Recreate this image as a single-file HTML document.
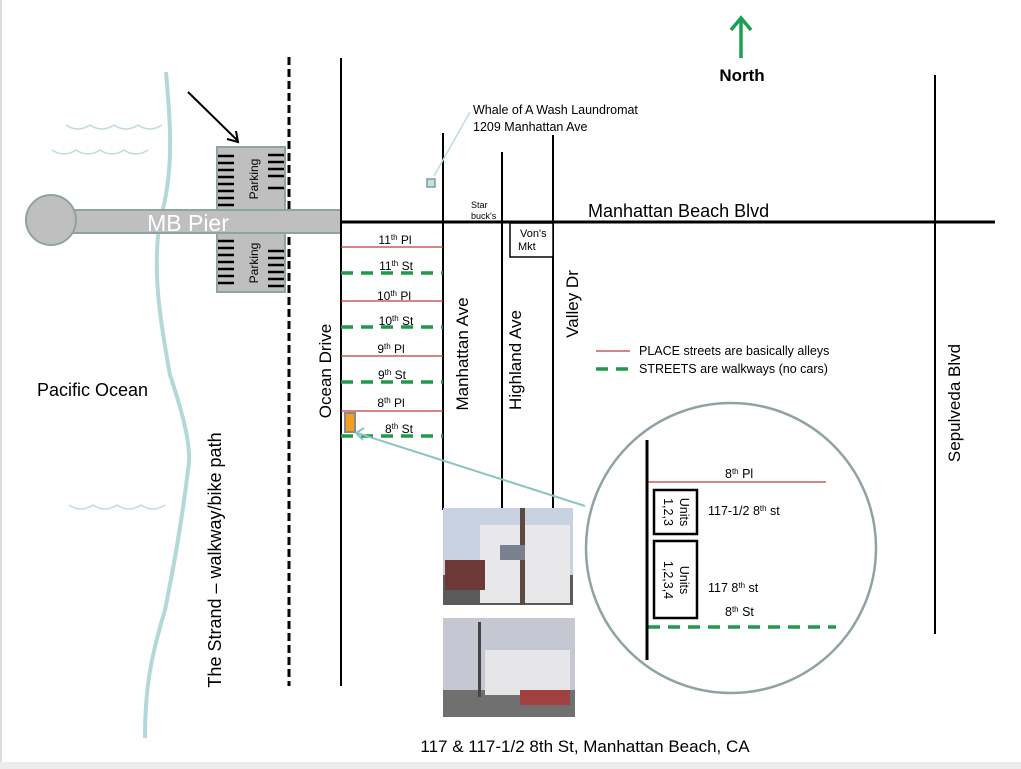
<!DOCTYPE html>
<html><head><meta charset="utf-8"><style>
html,body{margin:0;padding:0;background:#fff;}
svg{display:block;font-family:"Liberation Sans",Arial,sans-serif;}
</style></head><body>
<svg width="1021" height="769" viewBox="0 0 1021 769" xmlns="http://www.w3.org/2000/svg">
<rect x="0" y="0" width="1021" height="769" fill="#fff"/>
<rect x="0" y="762" width="1021" height="7" fill="#ececec"/>
<line x1="1" y1="0" x2="1" y2="762" stroke="#ddd" stroke-width="2"/>
<g fill="none" stroke="#bfdcdc" stroke-width="1.5">
<path d="M66 125 q12 8 24 0 q12 8 24 0 q12 8 24 0 q12 8 24 0"/>
<path d="M52 150 q12 8 24 0 q12 8 24 0 q12 8 24 0 q12 8 24 0"/>
<path d="M69 505 q12 8 24 0 q12 8 24 0 q12 8 24 0 q12 8 24 0"/>
</g>
<path d="M166 72 C170 120 175 170 160 220 C152 270 160 320 170 375 C185 420 192 450 188 470 C182 520 175 560 165 610 C150 660 145 690 145 738" fill="none" stroke="#b3d8d8" stroke-width="4"/>
<line x1="289" y1="57" x2="289" y2="686" stroke="#000" stroke-width="3" stroke-dasharray="8,4"/>
<rect x="217" y="147" width="68" height="64" fill="#bfbfbf" stroke="#8fa3a3" stroke-width="2"/>
<rect x="217" y="232" width="68" height="60" fill="#bfbfbf" stroke="#8fa3a3" stroke-width="2"/>
<g stroke="#000" stroke-width="2.5">
<line x1="218" y1="156" x2="234" y2="156"/><line x1="218" y1="163" x2="234" y2="163"/><line x1="218" y1="170" x2="234" y2="170"/><line x1="218" y1="177" x2="234" y2="177"/><line x1="218" y1="184" x2="234" y2="184"/><line x1="218" y1="191" x2="234" y2="191"/><line x1="218" y1="198" x2="234" y2="198"/><line x1="218" y1="205" x2="234" y2="205"/>
<line x1="268" y1="155" x2="284" y2="155"/><line x1="268" y1="162" x2="284" y2="162"/><line x1="268" y1="169" x2="284" y2="169"/><line x1="268" y1="176" x2="284" y2="176"/><line x1="268" y1="188" x2="284" y2="188"/>
<line x1="218" y1="241" x2="234" y2="241"/><line x1="218" y1="248" x2="234" y2="248"/><line x1="218" y1="255" x2="234" y2="255"/><line x1="218" y1="262" x2="234" y2="262"/><line x1="218" y1="269" x2="234" y2="269"/><line x1="218" y1="276" x2="234" y2="276"/><line x1="218" y1="283" x2="234" y2="283"/>
<line x1="268" y1="251" x2="284" y2="251"/><line x1="268" y1="258" x2="284" y2="258"/><line x1="268" y1="265" x2="284" y2="265"/><line x1="268" y1="272" x2="284" y2="272"/><line x1="268" y1="279" x2="284" y2="279"/><line x1="268" y1="286" x2="284" y2="286"/>
</g>
<text transform="translate(258,179) rotate(-90)" text-anchor="middle" font-size="12">Parking</text>
<text transform="translate(258,263) rotate(-90)" text-anchor="middle" font-size="12">Parking</text>
<rect x="70" y="210" width="271" height="23" fill="#bfbfbf" stroke="#8fa3a3" stroke-width="2"/>
<circle cx="51" cy="220" r="25" fill="#bfbfbf" stroke="#8fa3a3" stroke-width="2"/>
<text x="188" y="231" text-anchor="middle" font-size="23" fill="#fff">MB Pier</text>
<line x1="188" y1="92" x2="237" y2="140" stroke="#000" stroke-width="2"/>
<path d="M227 139 L238 142 L236 131" fill="none" stroke="#000" stroke-width="2"/>
<g stroke="#000" stroke-width="2">
<line x1="341" y1="58" x2="341" y2="686"/>
<line x1="443" y1="133" x2="443" y2="510"/>
<line x1="502" y1="152" x2="502" y2="510"/>
<line x1="553" y1="135" x2="553" y2="510"/>
<line x1="935" y1="75" x2="935" y2="634"/>
<line x1="341" y1="222" x2="995" y2="222" stroke-width="3"/>
</g>
<rect x="510" y="223" width="43" height="34" fill="#fff" stroke="#000" stroke-width="1.5"/>
<text x="520" y="237" font-size="11">Von's</text>
<text x="518" y="250" font-size="11">Mkt</text>
<text x="471" y="208" font-size="9">Star</text>
<text x="471" y="219" font-size="9">buck's</text>
<text x="588" y="217" font-size="18">Manhattan Beach Blvd</text>
<line x1="470" y1="112" x2="434" y2="176" stroke="#bfdcdc" stroke-width="1.5"/>
<rect x="427" y="179" width="8" height="8" fill="#bfe3e3" stroke="#7f9c9c" stroke-width="1.5"/>
<text x="473" y="114" font-size="12.5">Whale of A Wash Laundromat</text>
<text x="473" y="131" font-size="12.5">1209 Manhattan Ave</text>
<line x1="741" y1="20" x2="741" y2="58" stroke="#1aa050" stroke-width="3.5"/>
<path d="M731 30 L741 18 L751 30" fill="none" stroke="#1aa050" stroke-width="3.5"/>
<text x="742" y="81" text-anchor="middle" font-size="17" font-weight="bold">North</text>
<g stroke="#c0393b" stroke-width="1.3">
<line x1="341" y1="247" x2="443" y2="247"/><line x1="341" y1="301" x2="443" y2="301"/><line x1="341" y1="356" x2="443" y2="356"/><line x1="341" y1="411" x2="443" y2="411"/>
<line x1="596" y1="351" x2="630" y2="351"/>
<line x1="648" y1="482" x2="826" y2="482"/>
</g>
<g stroke="#1f9a4a" stroke-width="3.5" stroke-dasharray="12,8">
<line x1="341" y1="273" x2="443" y2="273"/><line x1="341" y1="327" x2="443" y2="327"/><line x1="341" y1="382" x2="443" y2="382"/><line x1="341" y1="436" x2="443" y2="436"/>
<line x1="596" y1="369" x2="632" y2="369"/>
<line x1="648" y1="627" x2="836" y2="627"/>
</g>
<g font-size="12" text-anchor="middle">
<text x="395" y="244">11<tspan font-size="8" dy="-4">th</tspan><tspan dy="4"> Pl</tspan></text>
<text x="396" y="270">11<tspan font-size="8" dy="-4">th</tspan><tspan dy="4"> St</tspan></text>
<text x="394" y="300">10<tspan font-size="8" dy="-4">th</tspan><tspan dy="4"> Pl</tspan></text>
<text x="396" y="325">10<tspan font-size="8" dy="-4">th</tspan><tspan dy="4"> St</tspan></text>
<text x="391" y="353">9<tspan font-size="8" dy="-4">th</tspan><tspan dy="4"> Pl</tspan></text>
<text x="392" y="379">9<tspan font-size="8" dy="-4">th</tspan><tspan dy="4"> St</tspan></text>
<text x="391" y="407">8<tspan font-size="8" dy="-4">th</tspan><tspan dy="4"> Pl</tspan></text>
<text x="399" y="433">8<tspan font-size="8" dy="-4">th</tspan><tspan dy="4"> St</tspan></text>
</g>
<rect x="345" y="413" width="10" height="19" fill="#f0a020" stroke="#8a8a8a" stroke-width="2"/>
<g font-size="17">
<text transform="translate(331,371) rotate(-90)" text-anchor="middle">Ocean Drive</text>
<text transform="translate(468,354) rotate(-90)" text-anchor="middle">Manhattan Ave</text>
<text transform="translate(521,360) rotate(-90)" text-anchor="middle">Highland Ave</text>
<text transform="translate(578,304) rotate(-90)" text-anchor="middle">Valley Dr</text>
<text transform="translate(960,403) rotate(-90)" text-anchor="middle">Sepulveda Blvd</text>
<text transform="translate(221,560) rotate(-90)" text-anchor="middle" font-size="18">The Strand – walkway/bike path</text>
</g>
<text x="37" y="396" font-size="18">Pacific Ocean</text>
<text x="639" y="355" font-size="12.5">PLACE streets are basically alleys</text>
<text x="639" y="373" font-size="12.5">STREETS  are walkways (no cars)</text>
<line x1="585" y1="506" x2="357" y2="433" stroke="#8cc4c4" stroke-width="2"/>
<path d="M364 428 L356 433 L363 440" fill="none" stroke="#8cc4c4" stroke-width="2"/>
<rect x="443" y="508" width="130" height="97" fill="#c9d2e2"/>
<rect x="443" y="575" width="130" height="30" fill="#5a5a5a"/>
<rect x="480" y="525" width="90" height="78" fill="#e8e8ea"/>
<rect x="445" y="560" width="40" height="30" fill="#6c3838"/>
<rect x="520" y="508" width="5" height="97" fill="#5a4a40"/>
<rect x="500" y="545" width="25" height="15" fill="#7a8090"/>
<rect x="443" y="618" width="132" height="99" fill="#c5c8d2"/>
<rect x="443" y="690" width="132" height="27" fill="#707070"/>
<rect x="485" y="650" width="85" height="45" fill="#e6e6e8"/>
<rect x="520" y="690" width="50" height="15" fill="#a04040"/>
<rect x="478" y="622" width="3" height="75" fill="#444"/>
<circle cx="731" cy="548" r="145" fill="none" stroke="#8fa3a3" stroke-width="2.5"/>
<line x1="647" y1="440" x2="647" y2="660" stroke="#000" stroke-width="3"/>
<rect x="654" y="490" width="43" height="44" fill="#fff" stroke="#000" stroke-width="2.5"/>
<rect x="654" y="541" width="43" height="77" fill="#fff" stroke="#000" stroke-width="2.5"/>
<g font-size="12.5">
<text transform="translate(680,512) rotate(90)" text-anchor="middle">Units</text>
<text transform="translate(664,512) rotate(90)" text-anchor="middle">1,2,3</text>
<text transform="translate(680,580) rotate(90)" text-anchor="middle">Units</text>
<text transform="translate(664,580) rotate(90)" text-anchor="middle">1,2,3,4</text>
<text x="725" y="478">8<tspan font-size="8" dy="-4">th</tspan><tspan dy="4"> Pl</tspan></text>
<text x="708" y="515">117-1/2 8<tspan font-size="8" dy="-4">th</tspan><tspan dy="4"> st</tspan></text>
<text x="708" y="592">117 8<tspan font-size="8" dy="-4">th</tspan><tspan dy="4"> st</tspan></text>
<text x="725" y="616">8<tspan font-size="8" dy="-4">th</tspan><tspan dy="4"> St</tspan></text>
</g>
<text x="585" y="752" text-anchor="middle" font-size="17">117 &amp; 117-1/2 8th St, Manhattan Beach, CA</text>
</svg>
</body></html>
